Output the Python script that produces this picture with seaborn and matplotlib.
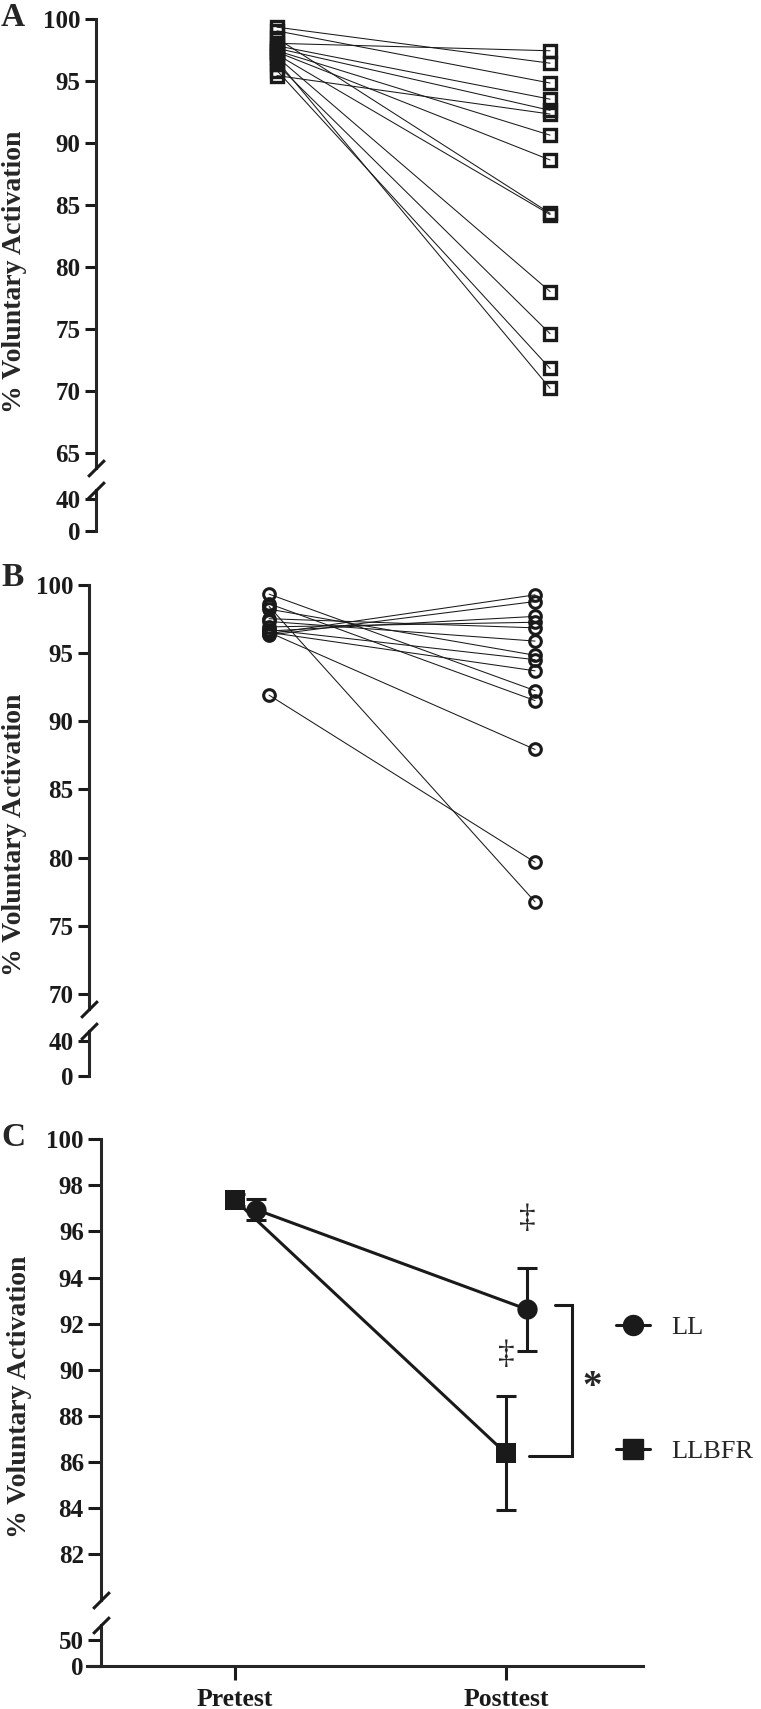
import numpy as np
import pandas as pd
import matplotlib
matplotlib.use("Agg")
import matplotlib.pyplot as plt
import seaborn as sns
from matplotlib.lines import Line2D

# Panel A (LLBFR): individual % voluntary activation, pretest -> posttest
a_pre = [99.3, 99.0, 98.4, 98.0, 97.8, 97.6, 97.4, 97.3, 97.1, 96.9, 96.6, 96.3, 95.8, 95.4]
a_post = [96.4, 94.8, 84.3, 97.4, 93.5, 92.6, 90.6, 88.6, 84.2, 78.0, 70.2, 74.6, 71.8, 92.3]

# Panel B (LL): individual values
b_pre = [99.3, 98.6, 98.4, 98.2, 97.5, 97.3, 96.9, 96.7, 96.6, 96.5, 96.4, 96.3, 96.5, 91.9]
b_post = [92.23, 91.5, 76.75, 94.82, 96.83, 95.86, 97.24, 94.5, 97.67, 93.68, 99.25, 98.76, 87.92, 79.65]

# Panel C: group means +- SEM
groups = ["LL", "LLBFR"]
time_labels = ["Pretest", "Posttest"]
ll_mean = [96.95, 92.62]
ll_sem = [0.47, 1.81]
llbfr_mean = [97.37, 86.37]
llbfr_sem = [0.25, 2.48]

sns.set_theme(style="ticks")
plt.rcParams["font.family"] = ["Liberation Serif", "DejaVu Serif"]
plt.rcParams["font.weight"] = "bold"

W, H = 761, 1709
fig = plt.figure(figsize=(W / 100, H / 100), dpi=100)


def px_axes(left, top, right, bottom):
    return fig.add_axes([left / W, 1 - bottom / H, (right - left) / W, (bottom - top) / H])


def style_y(ax, ticks, tick_len=7.7, pad=3.4):
    sns.despine(ax=ax, top=True, right=True, bottom=True)
    ax.spines["left"].set_linewidth(2.2)
    ax.set_yticks(ticks)
    ax.set_xticks([])
    ax.tick_params(axis="y", length=tick_len, width=2.2, pad=pad, labelsize=18, colors="k")
    ax.set_xlabel("")
    ax.set_ylabel("")
    ax.patch.set_visible(False)


def add_break(ax, y_axes, x_data):
    ax.plot([x_data], [y_axes], transform=ax.get_xaxis_transform(), marker=[(-1, -1), (1, 1)],
            ms=12, mew=2.2, color="k", clip_on=False, zorder=6)


def paired_panel(pre, post, marker, ms, mew, upper_px, lower_px, ylim_up, ylim_lo,
                 ticks_up, xlim):
    n = len(pre)
    df = pd.DataFrame({"subject": np.tile(np.arange(n), 2),
                       "time": np.repeat([0, 1], n),
                       "va": pre + post})
    ax = px_axes(*upper_px)
    sns.lineplot(data=df, x="time", y="va", units="subject", estimator=None, color="k",
                 lw=0.75, marker=marker, markersize=ms, markerfacecolor="none",
                 markeredgecolor="k", markeredgewidth=mew, ax=ax, clip_on=False)
    ax.set_xlim(*xlim)
    ax.set_ylim(*ylim_up)
    style_y(ax, ticks_up)
    add_break(ax, 0, xlim[0])

    lo = px_axes(*lower_px)
    lo.set_xlim(*xlim)
    lo.set_ylim(*ylim_lo)
    style_y(lo, [0, 40])
    add_break(lo, 1, xlim[0])
    return ax, lo


# Panel A
paired_panel(a_pre, a_post, "s", 9, 2.4,
             (95.7, 18.5, 700, 468), (95.7, 490, 700, 530.6),
             (63.78, 100), (0, 52), np.arange(65, 101, 5), (-0.664, 1.549))

# Panel B
paired_panel(b_pre, b_post, "o", 8.4, 2.2,
             (89, 584.6, 700, 1009), (89, 1031, 700, 1076),
             (68.9, 100), (0, 52), np.arange(70, 101, 5), (-0.677, 1.62))

# Panel C
dodge = 0.078
dfC = pd.DataFrame({"group": np.repeat(groups, 2),
                    "time": np.tile([0, 1], 2),
                    "mean": ll_mean + llbfr_mean,
                    "sem": ll_sem + llbfr_sem})
dfC["x"] = dfC["time"] + np.where(dfC["group"] == "LL", dodge, 0.0)

axC = px_axes(101, 1139.3, 643, 1600.1)
for g in ["LLBFR", "LL"]:
    sub = dfC[dfC["group"] == g]
    axC.errorbar(sub["x"], sub["mean"], yerr=sub["sem"], fmt="none", ecolor="k",
                 elinewidth=2.2, capsize=7.2, capthick=2.2, zorder=3)
sns.lineplot(data=dfC, x="x", y="mean", hue="group", hue_order=["LLBFR", "LL"],
             style="group", markers={"LL": "o", "LLBFR": "s"}, dashes=False,
             palette={"LL": "k", "LLBFR": "k"}, lw=2.2, markersize=14.6,
             markeredgewidth=0, legend=False, ax=axC, zorder=4, clip_on=False)
axC.set_xlim(-0.494, 1.506)
axC.set_ylim(80, 100)
style_y(axC, np.arange(82, 101, 2), tick_len=9.4, pad=3)
add_break(axC, 0, -0.494)

# significance marks
axC.text(1 + dodge, ll_mean[1] + ll_sem[1] + 2.14, "\u2021", fontsize=24, fontweight="normal",
         ha="center", va="center")
axC.text(1.0, llbfr_mean[1] + llbfr_sem[1] + 1.79, "\u2021", fontsize=24, fontweight="normal",
         ha="center", va="center")
br_top = ll_mean[1] + 0.18
br_bot = llbfr_mean[1] - 0.1
axC.plot([1.183, 1.245, 1.245, 1.085], [br_top, br_top, br_bot, br_bot], color="k", lw=2.2,
         clip_on=False, solid_joinstyle="miter")
axC.text(1.318, (br_top + br_bot) / 2 - 0.3, "*", fontsize=28, fontweight="bold",
         ha="center", va="center")

axC_lo = px_axes(87, 1625, 643, 1666)
axC_lo.set_xlim(-0.546, 1.506)
axC_lo.set_ylim(0, 79)
style_y(axC_lo, [0, 50], tick_len=9.4, pad=3)
axC_lo.spines["left"].set_position(("data", -0.494))
axC_lo.spines["bottom"].set_visible(True)
axC_lo.spines["bottom"].set_linewidth(2.2)
axC_lo.set_xticks([0, 1])
axC_lo.set_xticklabels(time_labels)
axC_lo.tick_params(axis="x", length=10, width=2.2, pad=6, labelsize=18.5, colors="k")
add_break(axC_lo, 1, -0.494)

handles = [Line2D([], [], color="k", lw=2.2, marker="o", ms=14.4),
           Line2D([], [], color="k", lw=2.2, marker="s", ms=14.9)]
fig.legend(handles, groups, loc="center left", bbox_to_anchor=(616 / W, 1 - 1389.5 / H),
           frameon=False, prop={"family": "Liberation Serif", "weight": "normal", "size": 19},
           handlelength=1.3, handletextpad=0.8, labelspacing=3.8, borderpad=0,
           borderaxespad=0)

# axis titles and panel letters
for xc, yc in [(15, 272), (15, 835), (20, 1397)]:
    fig.text(xc / W, 1 - yc / H, "% Voluntary Activation", rotation=90, ha="center",
             va="center", fontsize=20, fontweight="bold")
for lab, xc, yc in [("A", 13, 17), ("B", 13, 578), ("C", 13, 1137)]:
    fig.text(xc / W, 1 - yc / H, lab, ha="center", va="center", fontsize=24, fontweight="bold")

fig.savefig("out.png", dpi=100)
